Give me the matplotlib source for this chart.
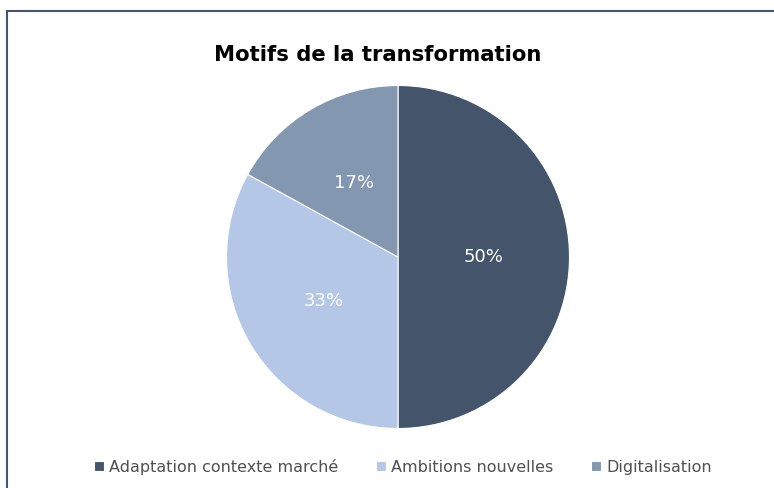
import matplotlib.pyplot as plt
from matplotlib.patches import Rectangle

# data
categories = ["Adaptation contexte marché", "Ambitions nouvelles", "Digitalisation"]
shares = [50, 33, 17]
colours = ["#44546A", "#B4C7E7", "#8497B0"]

W, H = 774, 488
fig = plt.figure(figsize=(W / 100, H / 100), dpi=100)
fig.patch.set_facecolor("white")

# frame of the chart area (only left/top visible, runs off the image)
fig.patches.append(
    Rectangle((7 / W, -0.05), 1.2, (H - 11) / H + 0.05, transform=fig.transFigure,
              fill=False, edgecolor="#44546A", linewidth=1.5)
)

# pie axes: centre (398, 257), radius ~171 px
r = 171.5
cx, cy = 398, 257
ax = fig.add_axes([(cx - r) / W, (H - cy - r) / H, 2 * r / W, 2 * r / H])
wedges, texts, autotexts = ax.pie(
    shares,
    colors=colours,
    startangle=90,
    counterclock=False,
    autopct="%d%%",
    pctdistance=0.5,
    wedgeprops=dict(edgecolor="white", linewidth=0.8),
    textprops=dict(color="white", fontsize=13),
)
ax.set_xlim(-1, 1)
ax.set_ylim(-1, 1)
ax.set_aspect("equal")

fig.text(378 / W, 1 - 55 / H, "Motifs de la transformation", ha="center", va="center",
         fontsize=15.2, fontweight="bold", color="black")

fig.legend(wedges, categories, loc="center", bbox_to_anchor=(403 / W, 1 - 467 / H),
           ncol=3, frameon=False, fontsize=11.5, handlelength=0.6, handleheight=0.6,
           handletextpad=0.35, columnspacing=2.35, labelcolor="#505050")

fig.savefig("out.png", dpi=100)
